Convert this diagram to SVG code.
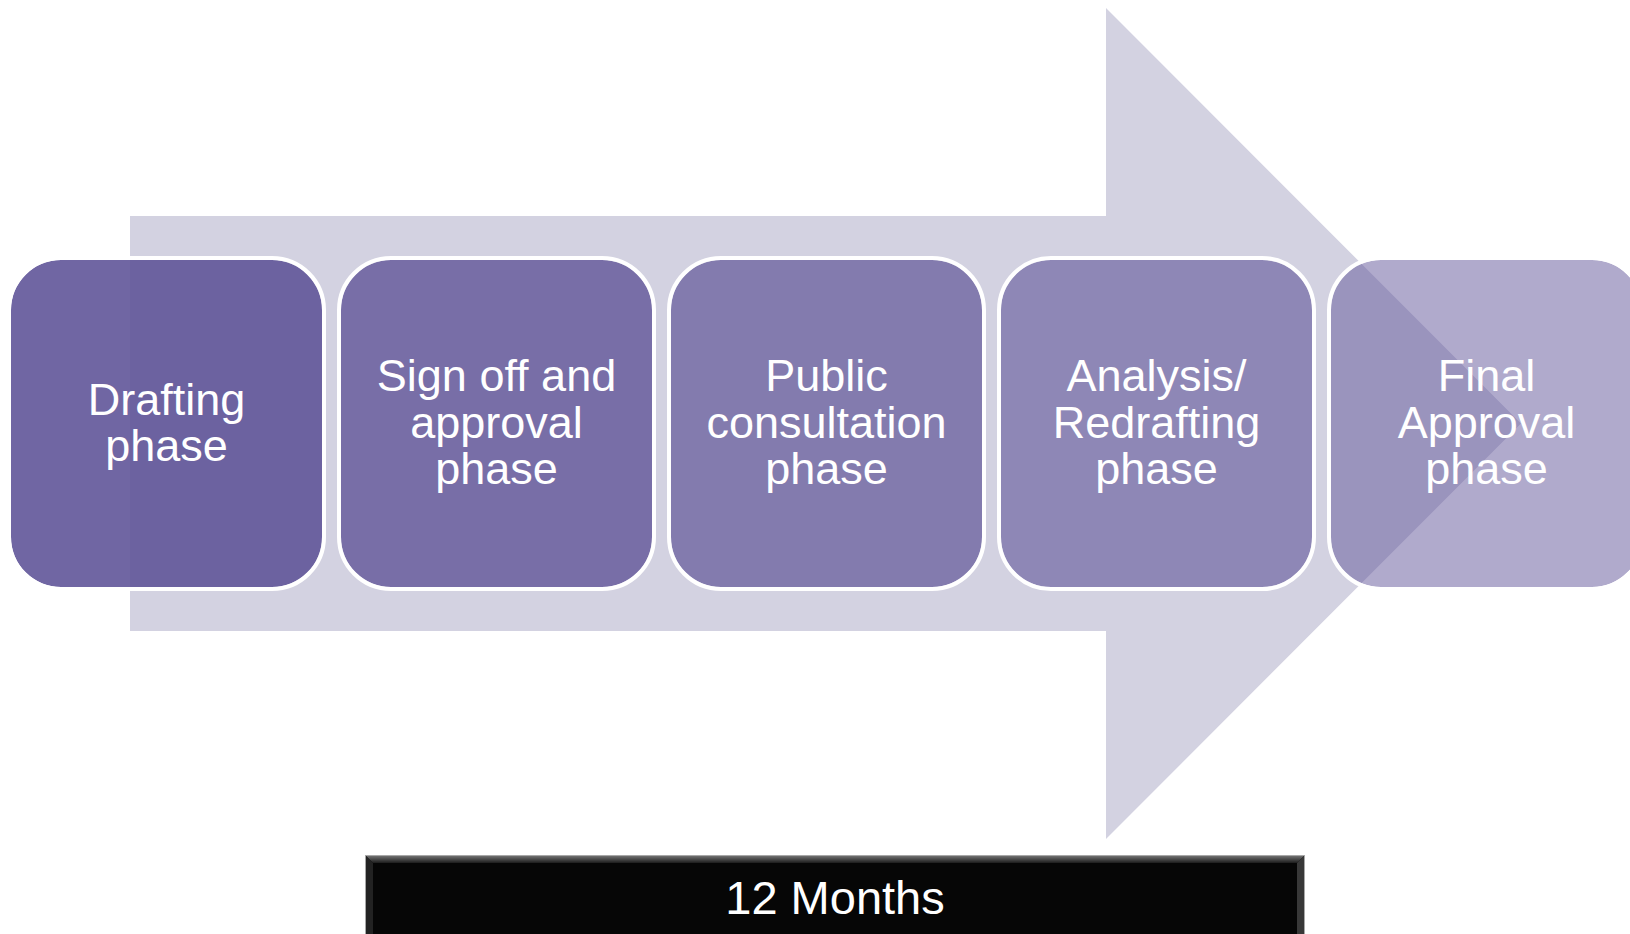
<svg xmlns="http://www.w3.org/2000/svg" width="1630" height="934" viewBox="0 0 1630 934">
<defs>
<style>
.box{fill:#615599;stroke:none}
.ring{fill:none;stroke:#ffffff;stroke-width:4}
.lbl{font-family:"Liberation Sans",Arial,sans-serif;font-size:45px;fill:#ffffff;text-anchor:middle}
.big{font-family:"Liberation Sans",Arial,sans-serif;font-size:47px;fill:#ffffff;text-anchor:middle}
</style>
<linearGradient id="bevTop" x1="0" y1="0" x2="0" y2="1">
<stop offset="0" stop-color="#707070"/>
<stop offset="1" stop-color="#1c1c1c"/>
</linearGradient>
</defs>
<rect width="1630" height="934" fill="#ffffff"/>
<g id="arrow">
<polygon points="130,216 1106,216 1106,8 1521,423.5 1106,839 1106,631 130,631" fill="#d3d2e1"/>
</g>
<g id="connectors"></g>
<g id="node-drafting">
<rect class="box" x="11" y="260" width="311" height="327" rx="50" fill-opacity="0.9"/>
<rect class="ring" x="9" y="258" width="315" height="331" rx="52"/>
<text class="lbl" x="166.5" y="415">Drafting</text>
<text class="lbl" x="166.5" y="461">phase</text>
</g>
<g id="node-signoff">
<rect class="box" x="341" y="260" width="311" height="327" rx="50" fill-opacity="0.8"/>
<rect class="ring" x="339" y="258" width="315" height="331" rx="52"/>
<text class="lbl" x="496.5" y="391">Sign off and</text>
<text class="lbl" x="496.5" y="438">approval</text>
<text class="lbl" x="496.5" y="484">phase</text>
</g>
<g id="node-consultation">
<rect class="box" x="671" y="260" width="311" height="327" rx="50" fill-opacity="0.7"/>
<rect class="ring" x="669" y="258" width="315" height="331" rx="52"/>
<text class="lbl" x="826.5" y="391">Public</text>
<text class="lbl" x="826.5" y="438">consultation</text>
<text class="lbl" x="826.5" y="484">phase</text>
</g>
<g id="node-analysis">
<rect class="box" x="1001" y="260" width="311" height="327" rx="50" fill-opacity="0.6"/>
<rect class="ring" x="999" y="258" width="315" height="331" rx="52"/>
<text class="lbl" x="1156.5" y="391">Analysis/</text>
<text class="lbl" x="1156.5" y="438">Redrafting</text>
<text class="lbl" x="1156.5" y="484">phase</text>
</g>
<g id="node-final">
<rect class="box" x="1331" y="260" width="311" height="327" rx="50" fill-opacity="0.5"/>
<rect class="ring" x="1329" y="258" width="315" height="331" rx="52"/>
<text class="lbl" x="1486.5" y="391">Final</text>
<text class="lbl" x="1486.5" y="438">Approval</text>
<text class="lbl" x="1486.5" y="484">phase</text>
</g>
<g id="timeline">
<rect x="365.5" y="855.5" width="939" height="82" fill="#060606" stroke="#a8a8a8" stroke-width="1"/>
<polygon points="366,856 1304,856 1297,863 373,863" fill="url(#bevTop)"/>
<polygon points="1304,856 1304,934 1297,934 1297,863" fill="#383838"/>
<polygon points="366,856 373,863 373,934 366,934" fill="#222222"/>
<text class="big" x="835" y="914">12 Months</text>
</g>
</svg>
